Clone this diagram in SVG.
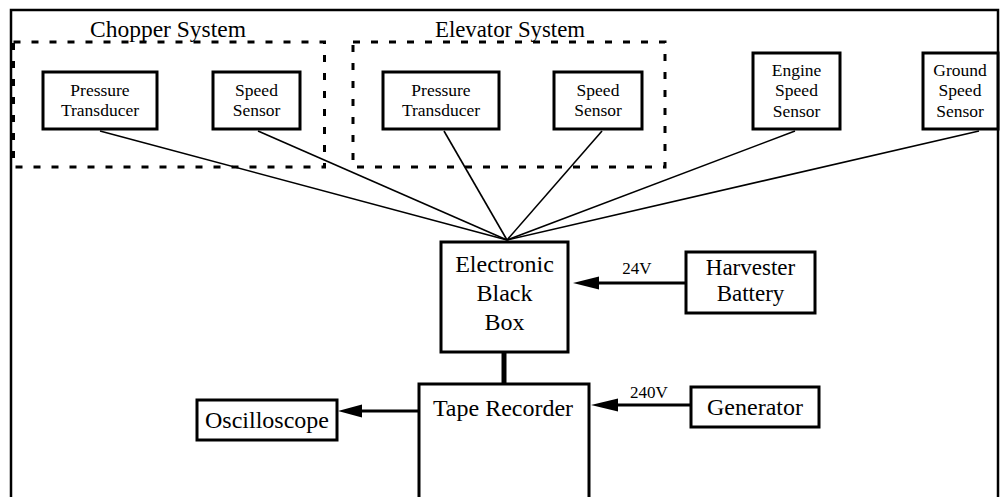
<svg xmlns="http://www.w3.org/2000/svg" width="1001" height="497" viewBox="0 0 1001 497">
<defs>
<style>
.box{fill:#fff;stroke:#000;stroke-width:3}
.dash{fill:none;stroke:#000;stroke-width:3;stroke-dasharray:7 11}
.t{font-family:"Liberation Serif","Times New Roman",serif;fill:#000;text-anchor:middle}
.s{font-size:17.5px}
.m{font-size:24px}
.l{font-size:17px}
.wire{stroke:#000;stroke-width:1.6;fill:none}
.pw{stroke:#000;stroke-width:3;fill:none}
</style>
</defs>
<rect width="1001" height="497" fill="#fff"/>
<rect x="11" y="10" width="987" height="520" fill="none" stroke="#000" stroke-width="2.5"/>

<g id="chopper-system">
<rect class="dash" x="13.5" y="42" width="311" height="125"/>
<text class="t" x="168" y="37" font-size="23.5">Chopper System</text>
</g>
<g id="elevator-system">
<rect class="dash" x="353" y="42" width="312" height="125"/>
<text class="t" x="510" y="37" font-size="22.8">Elevator System</text>
</g>

<g id="connectors">
<line class="wire" x1="100" y1="131" x2="507" y2="240"/>
<line class="wire" x1="258" y1="131" x2="507" y2="240"/>
<line class="wire" x1="444" y1="131" x2="507" y2="240"/>
<line class="wire" x1="602" y1="131" x2="507" y2="240"/>
<line class="wire" x1="795" y1="131" x2="507" y2="240"/>
<line class="wire" x1="979" y1="131" x2="507" y2="240"/>
<line x1="504" y1="352" x2="504" y2="384" stroke="#000" stroke-width="5"/>
<line class="pw" x1="686" y1="283" x2="598" y2="283"/>
<path d="M573,283 L599,276.5 L599,289.5 Z" fill="#000"/>
<line class="pw" x1="691" y1="405" x2="617" y2="405"/>
<path d="M591,405 L618,398.5 L618,411.5 Z" fill="#000"/>
<line class="pw" x1="419" y1="411" x2="361" y2="411"/>
<path d="M338,411 L362,404.5 L362,417.5 Z" fill="#000"/>
<text class="t l" x="637" y="274">24V</text>
<text class="t l" x="649" y="398">240V</text>
</g>

<g id="chopper-pressure">
<rect class="box" x="43" y="72" width="114" height="57"/>
<text class="t s" x="100" y="96">Pressure</text>
<text class="t s" x="100" y="116">Transducer</text>
</g>
<g id="chopper-speed">
<rect class="box" x="213" y="72" width="87" height="57"/>
<text class="t s" x="256.5" y="96">Speed</text>
<text class="t s" x="256.5" y="116">Sensor</text>
</g>
<g id="elevator-pressure">
<rect class="box" x="383" y="72" width="116" height="57"/>
<text class="t s" x="441" y="96">Pressure</text>
<text class="t s" x="441" y="116">Transducer</text>
</g>
<g id="elevator-speed">
<rect class="box" x="554" y="72" width="88" height="57"/>
<text class="t s" x="598" y="96">Speed</text>
<text class="t s" x="598" y="116">Sensor</text>
</g>
<g id="engine-speed">
<rect class="box" x="753" y="53" width="87" height="76"/>
<text class="t s" x="796.5" y="76">Engine</text>
<text class="t s" x="796.5" y="96">Speed</text>
<text class="t s" x="796.5" y="117">Sensor</text>
</g>
<g id="ground-speed">
<rect class="box" x="923" y="53" width="75" height="76"/>
<text class="t s" x="960" y="76">Ground</text>
<text class="t s" x="960" y="96">Speed</text>
<text class="t s" x="960" y="117">Sensor</text>
</g>
<g id="black-box">
<rect class="box" x="441" y="242" width="127" height="110"/>
<text class="t m" x="504.5" y="272">Electronic</text>
<text class="t m" x="504.5" y="301">Black</text>
<text class="t m" x="504.5" y="330">Box</text>
</g>
<g id="harvester-battery">
<rect class="box" x="686" y="252" width="129" height="61"/>
<text class="t" x="750.5" y="275" font-size="23px">Harvester</text>
<text class="t" x="750.5" y="301" font-size="23px">Battery</text>
</g>
<g id="tape-recorder">
<rect class="box" x="419" y="384" width="170" height="140"/>
<text class="t m" x="503" y="416">Tape Recorder</text>
</g>
<g id="generator">
<rect class="box" x="691" y="387" width="128" height="40"/>
<text class="t m" x="755" y="415">Generator</text>
</g>
<g id="oscilloscope">
<rect class="box" x="197" y="400" width="140" height="40"/>
<text class="t m" x="267" y="428">Oscilloscope</text>
</g>
</svg>
